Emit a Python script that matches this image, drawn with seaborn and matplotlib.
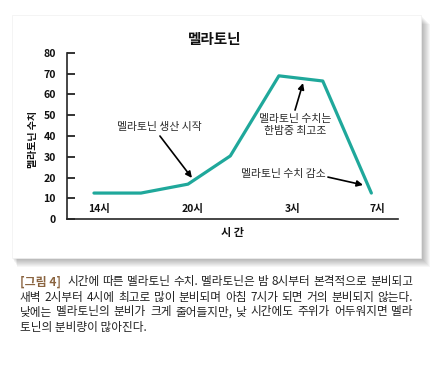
import pandas as pd
import matplotlib.pyplot as plt
import seaborn as sns
from matplotlib.patches import Rectangle

# data (x in hours from 14시, next day past 24)
hours = [14, 17, 20, 22.7, 25.8, 28.6, 31.7]
melatonin = [12.5, 12.5, 16.8, 30.4, 69, 66.5, 12.5]
tick_pos = [14.3, 20.3, 26.7, 32.1]
tick_labels = ["14시", "20시", "3시", "7시"]
yticks = [0, 10, 20, 30, 40, 50, 60, 70, 80]

caption = [
    "시간에 따른 멜라토닌 수치. 멜라토닌은 밤 8시부터 본격적으로 분비되고",
    "새벽 2시부터 4시에 최고로 많이 분비되며 아침 7시가 되면 거의 분비되지 않는다.",
    "낮에는 멜라토닌의 분비가 크게 줄어들지만, 낮 시간에도 주위가 어두워지면 멜라",
    "토닌의 분비량이 많아진다.",
]

df = pd.DataFrame({"hour": hours, "level": melatonin})

sns.set_style("ticks")
plt.rcParams["font.family"] = ["Noto Sans CJK KR", "DejaVu Sans"]

W, H = 434, 365
fig = plt.figure(figsize=(W / 100, H / 100), dpi=100)
fig.patch.set_facecolor("white")

def fx(px):
    return px / W

def fy(py):
    return 1 - py / H

# card with soft shadow
x0, y0, x1, y1 = 12, 15, 421, 258
for i in range(1, 10):
    fig.patches.append(Rectangle((fx(x0 + i * 0.6), fy(y1 + i)), fx(x1 - x0 + i * 0.4), fy(y0) - fy(y1),
                                 transform=fig.transFigure, facecolor="black", edgecolor="none",
                                 alpha=0.035, zorder=0))
fig.patches.append(Rectangle((fx(x0), fy(y1)), fx(x1 - x0), fy(y0) - fy(y1),
                             transform=fig.transFigure, facecolor="white", edgecolor="#f0f0f0",
                             lw=0.5, zorder=1))

ax = fig.add_axes([fx(67), fy(219), fx(398 - 67), fy(53) - fy(219)])
ax.set_facecolor("none")
ax.set_zorder(2)

sns.lineplot(data=df, x="hour", y="level", ax=ax, color="#1fa89b", linewidth=2.3)

ax.set_xlim(12.28, 33.4)
ax.set_ylim(0, 80)
ax.set_yticks(yticks)
ax.set_xticks([])
ax.set_xlabel("")
ax.set_ylabel("")
ax.tick_params(axis="y", direction="in", length=6, width=1.2, pad=8, labelsize=7.6, colors="#111")
for lab in ax.get_yticklabels():
    lab.set_fontweight("bold")
sns.despine(ax=ax)
ax.spines["left"].set_linewidth(1.2)
ax.spines["bottom"].set_linewidth(1.2)

for p, t in zip(tick_pos, tick_labels):
    ax.text(p, 5, t, ha="center", va="center", fontsize=7.5, fontweight="bold", color="#111")

akw = dict(arrowstyle="-|>", color="black", lw=1.2, mutation_scale=9, shrinkA=0, shrinkB=0)
tkw = dict(ha="center", va="center", fontsize=7.8, color="#2a2a2a", fontweight="medium")
ax.annotate("", xy=(20.25, 19.8), xytext=(18.21, 40), arrowprops=akw)
ax.text(18.15, 44.3, "멜라토닌 생산 시작", **tkw)
ax.annotate("", xy=(27.34, 65.5), xytext=(26.83, 52.5), arrowprops=akw)
ax.text(26.83, 45.3, "멜라토닌 수치는\n한밤중 최고조", linespacing=1.25, **tkw)
ax.annotate("", xy=(31.17, 16.4), xytext=(28.93, 20.2), arrowprops=akw)
ax.text(26.06, 21.7, "멜라토닌 수치 감소", **tkw)

fig.text(fx(215), fy(39), "멜라토닌", ha="center", va="center", fontsize=10.5, fontweight="bold", color="#111")
fig.text(fx(33), fy(140), "멜라토닌 수치", ha="center", va="center", rotation=90, fontsize=7.2,
         fontweight="bold", color="#111")
fig.text(fx(233), fy(232), "시 간", ha="center", va="center", fontsize=8, fontweight="bold", color="#111")

# caption below the card, justified lines like the print layout
renderer = fig.canvas.get_renderer()
cap_size = 8.4

def justified(line, left, right, y):
    words = line.split(" ")
    texts = [fig.text(0, fy(y), w, ha="left", va="center", fontsize=cap_size, color="#222") for w in words]
    widths = [t.get_window_extent(renderer).width for t in texts]
    gap = (right - left - sum(widths)) / max(len(words) - 1, 1)
    xpos = left
    for t, w in zip(texts, widths):
        t.set_x(fx(xpos))
        xpos += w + gap

cy = [282, 297, 312, 327]
fig.text(fx(20), fy(cy[0]), "[그림 4]", ha="left", va="center", fontsize=8.6, fontweight="bold", color="#8a6440")
justified(caption[0], 67, 413, cy[0])
justified(caption[1], 20, 413, cy[1])
justified(caption[2], 20, 413, cy[2])
fig.text(fx(20), fy(cy[3]), caption[3], ha="left", va="center", fontsize=cap_size, color="#222")

fig.savefig("out.png", dpi=100)
